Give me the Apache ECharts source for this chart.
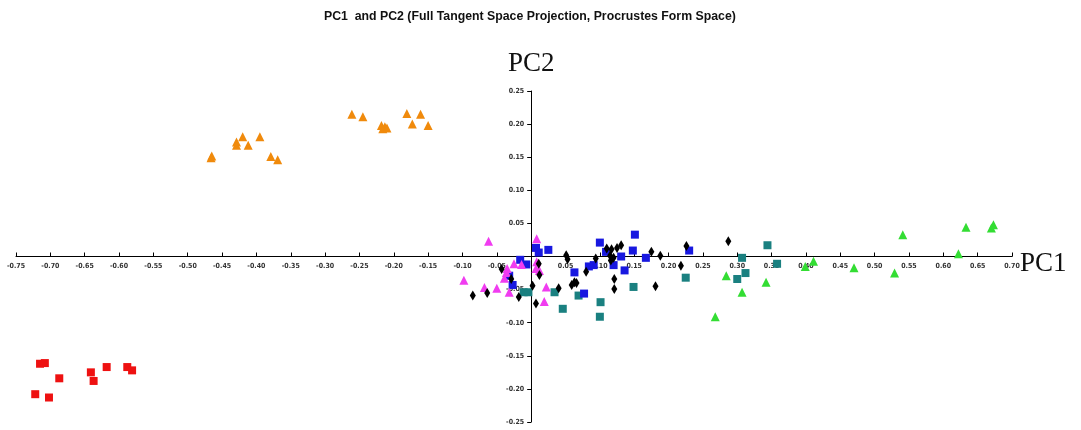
<!DOCTYPE html>
<html>
<head>
<meta charset="utf-8">
<script src="https://cdn.jsdelivr.net/npm/echarts@6/dist/echarts.min.js"></script>
<style>
html,body{margin:0;padding:0;background:#fff;}
#chart{width:1081px;height:430px;}
</style>
</head>
<body>
<div id="chart"></div>
<script>
const titleText = "PC1  and PC2 (Full Tangent Space Projection, Procrustes Form Space)";
const xName = "PC1";
const yName = "PC2";

const orange = [[-0.465,0.152],[-0.466,0.149],[-0.429,0.173],[-0.429,0.168],[-0.420,0.181],[-0.412,0.168],[-0.395,0.181],[-0.379,0.151],[-0.369,0.146],[-0.261,0.215],[-0.245,0.211],[-0.218,0.198],[-0.213,0.196],[-0.216,0.193],[-0.210,0.194],[-0.181,0.216],[-0.161,0.215],[-0.173,0.200],[-0.150,0.198]];
const red = [[-0.715,-0.162],[-0.708,-0.161],[-0.687,-0.184],[-0.722,-0.208],[-0.702,-0.213],[-0.641,-0.175],[-0.637,-0.188],[-0.618,-0.167],[-0.588,-0.167],[-0.581,-0.172]];
const teal = [[0.344,0.017],[0.307,-0.002],[0.358,-0.011],[0.312,-0.025],[0.300,-0.034],[0.225,-0.032],[0.149,-0.046],[0.101,-0.069],[0.100,-0.091],[0.069,-0.059],[0.046,-0.079],[0.034,-0.054],[-0.011,-0.054],[-0.004,-0.054]];
const blue = [[0.007,0.013],[0.011,0.006],[0.025,0.010],[-0.016,-0.005],[-0.007,-0.012],[-0.032,-0.029],[-0.027,-0.043],[0.063,-0.024],[0.077,-0.056],[0.084,-0.015],[0.091,-0.013],[0.100,0.021],[0.109,0.007],[0.120,-0.013],[0.131,0.000],[0.136,-0.021],[0.148,0.009],[0.151,0.033],[0.167,-0.002],[0.230,0.009]];
const magenta = [[-0.062,0.023],[0.008,0.027],[-0.025,-0.011],[-0.014,-0.012],[-0.035,-0.018],[-0.036,-0.024],[-0.039,-0.033],[-0.098,-0.036],[-0.068,-0.047],[-0.050,-0.048],[-0.032,-0.054],[0.008,-0.008],[0.007,-0.018],[0.012,-0.021],[0.022,-0.046],[0.019,-0.068]];
const black = [[-0.085,-0.059],[-0.064,-0.055],[-0.043,-0.019],[-0.029,-0.034],[-0.018,-0.061],[0.002,-0.044],[0.012,-0.028],[0.011,-0.011],[0.007,-0.071],[0.040,-0.048],[0.051,0.002],[0.053,-0.004],[0.059,-0.043],[0.063,-0.039],[0.066,-0.040],[0.080,-0.023],[0.094,-0.003],[0.110,0.012],[0.117,0.011],[0.125,0.013],[0.131,0.017],[0.115,0.001],[0.120,-0.002],[0.116,-0.006],[0.121,-0.034],[0.121,-0.049],[0.175,0.007],[0.188,0.001],[0.218,-0.014],[0.226,0.016],[0.287,0.023],[0.181,-0.045]];
const green = [[0.284,-0.029],[0.307,-0.054],[0.268,-0.091],[0.342,-0.039],[0.399,-0.015],[0.411,-0.007],[0.470,-0.017],[0.529,-0.025],[0.541,0.033],[0.622,0.004],[0.633,0.044],[0.670,0.043],[0.673,0.048]];

const W = 1081, H = 430;
const grid = {left:16, right:69, top:91, bottom:8};

const chart = echarts.init(document.getElementById('chart'), null, {renderer:'canvas'});
const labelFmt = v => (Math.abs(v) < 1e-9 ? '' : v.toFixed(2));
const tickFont = {fontSize:7, fontWeight:'bold', color:'#333', fontFamily:'"DejaVu Sans Condensed", "DejaVu Sans", sans-serif'};

function sc(name, data, symbol, size, color){
  return {name, type:'scatter', data, symbol, symbolSize:size,
    itemStyle:{color, opacity:1}, animation:false, silent:true};
}

chart.setOption({
  animation:false,
  backgroundColor:'#fff',
  title:{text:titleText, left:319, top:6,
    textStyle:{fontSize:12.3, fontWeight:'bold', color:'#111', fontFamily:'"Liberation Sans Narrow", "Arial Narrow", sans-serif'}},
  grid:Object.assign({containLabel:false, outerBoundsMode:'none'}, grid),
  xAxis:{type:'value', min:-0.75, max:0.70, interval:0.05,
    name:xName, nameLocation:'end', nameGap:8, nameMoveOverlap:false,
    nameTextStyle:{fontSize:27, color:'#111', fontFamily:'"Liberation Serif", serif', verticalAlign:'top', align:'left', padding:[-6,0,0,0]},
    axisLine:{onZero:false, lineStyle:{color:'#000', width:1}},
    axisTick:{show:true, inside:true, length:4, lineStyle:{color:'#000'}},
    axisLabel:Object.assign({formatter:labelFmt, margin:6, showMinLabel:true, showMaxLabel:true}, tickFont),
    splitLine:{show:false}},
  yAxis:{type:'value', min:-0.25, max:0.25, interval:0.05,
    name:yName, nameLocation:'end', nameGap:14, nameMoveOverlap:false,
    nameTextStyle:{fontSize:27, color:'#111', fontFamily:'"Liberation Serif", serif', align:'center'},
    axisLine:{onZero:false, lineStyle:{color:'#000', width:1}},
    axisTick:{show:true, inside:false, length:4, lineStyle:{color:'#000'}},
    axisLabel:Object.assign({formatter:labelFmt, margin:7}, tickFont),
    splitLine:{show:false}},
  series:[
    sc('orange', orange, 'triangle', 9, '#f08a0c'),
    sc('red', red, 'rect', 8, '#ee1111'),
    sc('teal', teal, 'rect', 8, '#1a8080'),
    sc('blue', blue, 'rect', 8, '#1818e0'),
    sc('magenta', magenta, 'triangle', 9, '#f03cf0'),
    sc('black', black, 'diamond', [6,10], '#000000'),
    sc('green', green, 'triangle', 9, '#33dd33')
  ]
});

// Move both axes (line, ticks, labels, name) to cross at the data origin.
const origin = chart.convertToPixel({gridIndex:0}, [0, 0]);
chart.setOption({
  xAxis:{offset: origin[1] - (H - grid.bottom)},
  yAxis:{offset: grid.left - origin[0]}
});
</script>
</body>
</html>
